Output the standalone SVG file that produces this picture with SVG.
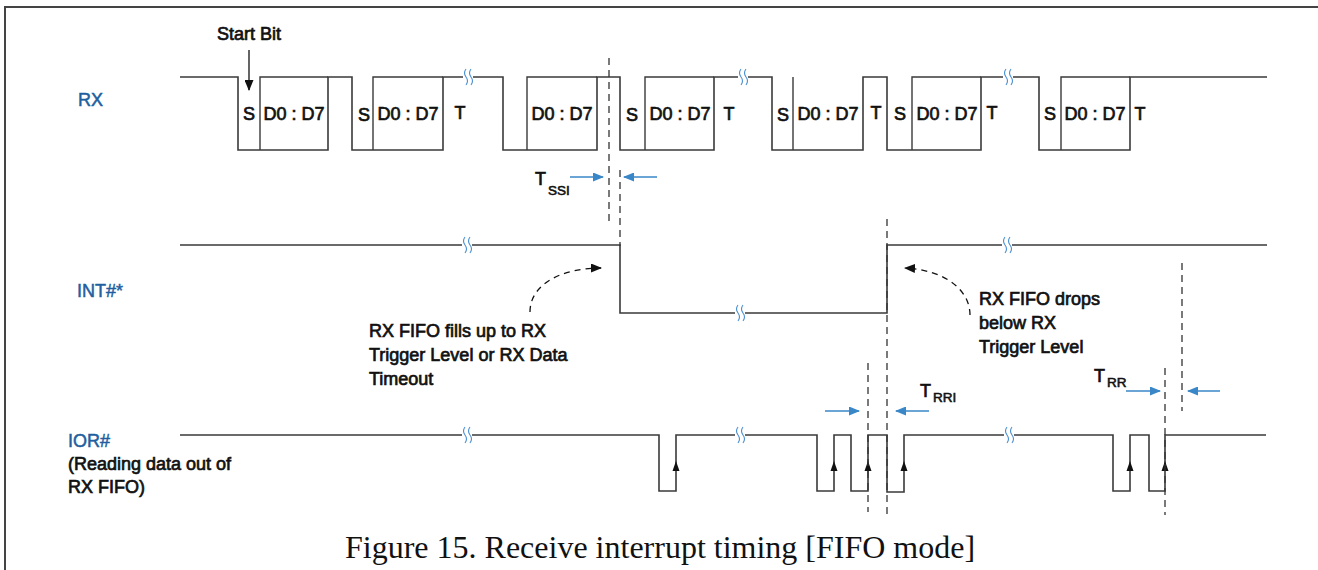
<svg xmlns="http://www.w3.org/2000/svg" width="1318" height="570" viewBox="0 0 1318 570">
<style>
.t{font-family:"Liberation Sans",Arial,sans-serif;font-size:18px;fill:#111;stroke:#111;stroke-width:0.7}
.sub{font-size:13.5px;stroke-width:0.6}
.lbl{font-family:"Liberation Sans",Arial,sans-serif;font-size:18px;fill:#1f5f9f;stroke:#1f5f9f;stroke-width:0.5}
.w{fill:none;stroke:#3a3a3a;stroke-width:1.6}
.box{fill:none;stroke:#3a3a3a;stroke-width:1.4}
.dash{fill:none;stroke:#333;stroke-width:1.3;stroke-dasharray:7,5}
.barr{fill:none;stroke:#3a87c8;stroke-width:1.5;marker-end:url(#ba)}
.brk{fill:none;stroke:#4a90d0;stroke-width:1.1}
.cap{font-family:"Liberation Serif","Times New Roman",serif;font-size:32px;fill:#111}
</style>
<defs>
<marker id="ba" markerUnits="userSpaceOnUse" markerWidth="11" markerHeight="9" refX="10" refY="4.5" orient="auto"><path d="M0,0 L11,4.5 L0,9 z" fill="#3a87c8"/></marker>
<marker id="ka" markerUnits="userSpaceOnUse" markerWidth="11" markerHeight="9" refX="10" refY="4.5" orient="auto"><path d="M0,0 L11,4.5 L0,9 z" fill="#111"/></marker>
<g id="brk"><rect x="-5" y="-9" width="10" height="18" fill="#fff"/><path class="brk" d="M-2,-8 q-3,4 0,8 q3,4 0,8 M3,-8 q-3,4 0,8 q3,4 0,8"/></g>
<path id="up" d="M0,0 L-3.5,10 L3.5,10 z" fill="#111"/>
</defs>
<rect width="1318" height="570" fill="#fff"/>
<path d="M5,570 V7 H1318" fill="none" stroke="#444" stroke-width="2"/>

<g id="rx">
<text class="lbl" x="78" y="106">RX</text>
<text class="t" x="217" y="40">Start Bit</text>
<line x1="249" y1="50" x2="249" y2="90" stroke="#111" stroke-width="1.3" marker-end="url(#ka)"/>
<polyline class="w" points="180,77 238,77 238,150 328,150 328,77 352,77 352,150 443,150 443,77 503,77 503,150 597,150 597,77 620,77 620,150 714,150 714,77 772,77 772,150 863,150 863,77 887,77 887,150 981,150 981,77 1039,77 1039,150 1130,150 1130,77 1267,77"/>
<path class="box" d="M260,150 V77 H328 M373,150 V77 H443 M527,150 V77 H597 M645,150 V77 H714 M793,150 V77 M912,150 V77 H981 M1061,150 V77 H1130"/>
<g text-anchor="middle">
<text class="t" x="249" y="120">S</text><text class="t" x="294" y="120">D0 : D7</text>
<text class="t" x="364" y="121">S</text><text class="t" x="408" y="120">D0 : D7</text><text class="t" x="460" y="119">T</text>
<text class="t" x="562" y="120">D0 : D7</text>
<text class="t" x="632" y="121">S</text><text class="t" x="680" y="120">D0 : D7</text><text class="t" x="729" y="120">T</text>
<text class="t" x="783" y="121">S</text><text class="t" x="828" y="120">D0 : D7</text><text class="t" x="876" y="119">T</text>
<text class="t" x="900" y="120">S</text><text class="t" x="947" y="120">D0 : D7</text><text class="t" x="992" y="119">T</text>
<text class="t" x="1050" y="120">S</text><text class="t" x="1095" y="120">D0 : D7</text><text class="t" x="1140" y="120">T</text>
</g>
<use href="#brk" x="468" y="77"/><use href="#brk" x="743" y="77"/><use href="#brk" x="1008" y="77"/>
</g>

<g id="int">
<text class="lbl" x="77" y="297">INT#*</text>
<polyline class="w" points="180,245 620,245 620,313 887,313 887,245 1267,245"/>
<use href="#brk" x="467" y="245"/><use href="#brk" x="740" y="313"/><use href="#brk" x="1007" y="245"/>
</g>

<g id="ior">
<text class="lbl" x="68" y="447">IOR#</text>
<text class="t" x="68" y="470">(Reading data out of</text>
<text class="t" x="68" y="493">RX FIFO)</text>
<polyline class="w" points="180,435 659,435 659,491 676,491 676,435 817,435 817,491 834,491 834,435 851,435 851,491 868,491 868,435 887,435 887,492 904,492 904,435 1113,435 1113,491 1130,491 1130,435 1149,435 1149,491 1165,491 1165,435 1266,435"/>
<use href="#up" x="676" y="461"/><use href="#up" x="834" y="461"/><use href="#up" x="868" y="461"/><use href="#up" x="904" y="461"/><use href="#up" x="1130" y="461"/><use href="#up" x="1165" y="461"/>
<use href="#brk" x="467" y="435"/><use href="#brk" x="740" y="435"/><use href="#brk" x="1009" y="435"/>
</g>

<g id="timing-marks">
<line class="dash" x1="609" y1="58" x2="609" y2="226" stroke="#555" stroke-width="1.8"/>
<line class="dash" x1="620" y1="170" x2="620" y2="246"/>
<line class="dash" x1="868" y1="363" x2="868" y2="512"/>
<line class="dash" x1="887" y1="219" x2="887" y2="515"/>
<line class="dash" x1="1165" y1="368" x2="1165" y2="515"/>
<line class="dash" x1="1182" y1="263" x2="1182" y2="411"/>
<line class="barr" x1="570" y1="177" x2="603" y2="177"/>
<line class="barr" x1="657" y1="177" x2="624" y2="177"/>
<line class="barr" x1="825" y1="411" x2="859" y2="411"/>
<line class="barr" x1="929" y1="411" x2="896" y2="411"/>
<line class="barr" x1="1126" y1="391" x2="1160" y2="391"/>
<line class="barr" x1="1220" y1="391" x2="1188" y2="391"/>
<text class="t" x="535" y="185">T</text><text class="t sub" x="548" y="195">SSI</text>
<text class="t" x="920" y="397">T</text><text class="t sub" x="933" y="402">RRI</text>
<text class="t" x="1094" y="382">T</text><text class="t sub" x="1107" y="387">RR</text>
</g>

<g id="notes">
<path d="M530,312 C530,285 560,268 601,268" fill="none" stroke="#111" stroke-width="1.3" stroke-dasharray="6,5" marker-end="url(#ka)"/>
<text class="t" x="369" y="337">RX FIFO fills up to RX</text>
<text class="t" x="369" y="361">Trigger Level or RX Data</text>
<text class="t" x="369" y="385">Timeout</text>
<path d="M970,315 C970,290 945,270 905,268" fill="none" stroke="#111" stroke-width="1.3" stroke-dasharray="6,5" marker-end="url(#ka)"/>
<text class="t" x="979" y="305">RX FIFO drops</text>
<text class="t" x="979" y="329">below RX</text>
<text class="t" x="979" y="353">Trigger Level</text>
</g>

<text class="cap" x="345" y="558">Figure 15. Receive interrupt timing [FIFO mode]</text>
</svg>
